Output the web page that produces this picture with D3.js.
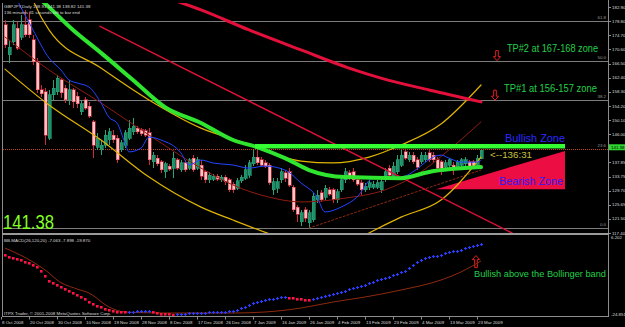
<!DOCTYPE html>
<html lang="en">
<head>
<meta charset="UTF-8">
<title>GBPJPY,Daily</title>
<script src="https://d3js.org/d3.v7.min.js"></script>
<style>
    body { margin: 0; background: #000; }
    svg { display: block; font-family: "Liberation Sans", Arial, sans-serif; }
    .tiny { font-size: 4.4px; fill: #dcdcdc; }
</style>
</head>
<body>
<div id="chart"></div>
<script>
    // ---- data ----
    var dateLabels = ["8 Oct 2008", "20 Oct 2008", "30 Oct 2008", "10 Nov 2008", "19 Nov 2008", "28 Nov 2008",
        "8 Dec 2008", "17 Dec 2008", "26 Dec 2008", "7 Jan 2009", "16 Jan 2009", "26 Jan 2009",
        "4 Feb 2009", "13 Feb 2009", "23 Feb 2009", "4 Mar 2009", "13 Mar 2009", "23 Mar 2009"];
    var dateBars = [0, 7, 14, 21, 28, 35, 42, 49, 56, 63, 70, 77, 84, 91, 98, 105, 112, 119];

    var opens = [177.7, 169.0, 172.8, 176.8, 174.2, 177.7, 179.2, 173.4, 167.0, 158.9,
        158.3, 144.9, 157.4, 158.3, 161.8, 159.4, 156.0, 158.9, 157.1, 152.5,
        156.0, 154.2, 149.6, 142.3, 141.5, 142.9, 144.4, 145.8, 144.9, 141.5,
        142.9, 144.9, 146.7, 147.8, 147.3, 147.0, 146.4, 138.0, 139.1, 138.0,
        135.1, 136.8, 136.2, 138.6, 135.7, 137.7, 136.2, 139.1, 136.2, 137.1,
        135.1, 132.8, 133.0, 133.9, 132.8, 133.6, 132.8, 131.6, 130.4, 132.5,
        133.3, 134.2, 137.4, 139.4, 138.6, 137.7, 137.1, 129.9, 130.4, 132.8,
        134.8, 135.1, 130.7, 124.9, 120.6, 124.1, 120.3, 121.2, 127.0, 129.0,
        127.8, 129.9, 129.9, 127.0, 129.9, 132.8, 134.8, 135.1, 132.8, 131.9,
        129.9, 130.7, 130.7, 130.7, 129.9, 132.8, 136.2, 133.9, 135.1, 137.1,
        140.9, 138.6, 140.0, 138.6, 138.0, 138.6, 140.6, 140.0, 138.6, 138.0,
        136.5, 137.1, 137.1, 136.5, 137.1, 137.4, 138.0, 138.0, 137.1, 138.91];
    var highs = [179.2, 173.4, 179.2, 178.6, 180.6, 182.1, 181.5, 174.8, 168.1, 160.3,
        159.4, 158.9, 161.8, 163.2, 162.3, 160.3, 161.8, 159.4, 158.3, 156.0,
        156.8, 155.4, 150.2, 146.4, 144.4, 147.3, 147.8, 147.3, 145.8, 144.4,
        147.3, 150.2, 150.7, 148.4, 147.8, 147.5, 147.8, 140.9, 140.0, 138.6,
        138.0, 137.4, 140.9, 139.1, 138.6, 138.6, 139.1, 140.0, 139.4, 138.6,
        135.7, 135.1, 134.5, 134.5, 134.2, 134.2, 133.3, 132.2, 133.3, 134.2,
        137.1, 138.6, 141.5, 142.0, 139.4, 138.6, 137.7, 133.3, 133.3, 136.2,
        135.7, 136.2, 131.3, 125.5, 124.1, 124.9, 124.1, 129.0, 129.9, 129.9,
        131.3, 130.7, 130.4, 130.1, 133.9, 136.2, 135.7, 136.2, 133.6, 132.8,
        131.9, 132.8, 132.5, 132.8, 133.3, 136.2, 137.1, 138.0, 140.0, 141.5,
        141.5, 140.9, 140.9, 139.4, 140.9, 140.9, 141.5, 140.9, 139.4, 138.6,
        138.6, 139.1, 138.0, 138.6, 139.1, 139.4, 138.6, 138.6, 140.0, 141.38];
    var lows = [171.0, 166.7, 171.9, 170.5, 173.4, 174.2, 173.9, 166.1, 158.0, 156.8,
        142.9, 144.4, 156.0, 157.4, 156.5, 155.1, 154.5, 153.6, 153.6, 151.6,
        153.1, 150.7, 139.1, 141.5, 140.0, 142.0, 142.9, 143.5, 137.7, 140.9,
        142.0, 144.4, 145.8, 146.1, 145.5, 145.2, 137.1, 136.2, 136.8, 134.8,
        133.3, 135.4, 133.3, 135.7, 135.1, 135.1, 135.7, 135.1, 135.7, 132.8,
        131.9, 131.9, 132.5, 132.5, 132.2, 131.3, 129.3, 129.0, 129.9, 131.9,
        132.8, 133.3, 136.8, 137.1, 136.5, 136.2, 131.3, 128.4, 129.0, 131.9,
        132.2, 130.7, 123.5, 120.6, 119.4, 120.6, 118.8, 120.6, 126.1, 126.4,
        127.0, 128.1, 126.1, 126.1, 129.3, 131.9, 132.8, 132.2, 131.0, 128.4,
        129.3, 129.9, 130.1, 130.1, 129.0, 132.2, 133.6, 133.3, 134.5, 136.5,
        138.6, 138.0, 137.4, 135.7, 137.4, 138.0, 138.0, 137.7, 135.1, 134.2,
        135.7, 136.2, 134.2, 135.9, 136.5, 136.8, 135.7, 135.9, 136.5, 138.82];
    var closes = [171.9, 171.3, 177.7, 171.0, 177.7, 174.8, 174.8, 167.0, 158.9, 157.7,
        145.8, 157.4, 159.4, 162.3, 158.0, 156.0, 158.9, 155.4, 154.8, 154.8,
        153.6, 151.3, 142.9, 144.9, 142.9, 145.8, 146.7, 144.4, 138.6, 143.5,
        146.4, 147.8, 148.4, 146.7, 146.1, 145.8, 138.6, 140.0, 137.4, 135.7,
        137.4, 135.9, 139.1, 136.2, 137.7, 135.7, 138.6, 135.7, 138.6, 133.9,
        132.8, 134.2, 133.9, 133.0, 133.6, 132.2, 129.9, 129.9, 132.5, 133.6,
        135.7, 137.7, 139.4, 137.7, 137.1, 136.8, 131.9, 132.2, 132.2, 135.1,
        133.3, 131.3, 124.1, 122.9, 123.2, 121.7, 123.2, 128.1, 128.4, 127.0,
        130.4, 128.7, 127.0, 129.3, 132.8, 135.1, 133.3, 132.8, 131.6, 129.9,
        131.0, 131.9, 131.6, 131.9, 132.2, 135.1, 134.2, 136.8, 138.6, 140.0,
        139.1, 140.0, 138.0, 136.5, 140.0, 140.0, 138.6, 138.6, 136.2, 136.2,
        137.7, 138.6, 136.2, 138.0, 138.6, 138.6, 136.2, 136.5, 139.1, 141.38];

    var priceTicks = [182.90, 178.80, 174.70, 170.60, 166.50, 162.40, 158.30, 154.20, 150.10, 146.00,
        137.85, 133.75, 129.70, 125.65, 121.50, 117.40];
    var macdTicks = [6.202, -24.851];
    var lastPrice = 141.38;

    // fibonacci drawn from the 2008 high to the Jan 2009 low
    var fibLow = 118.83, fibHigh = 215.88;
    var fibLevels = [0, 23.6, 38.2, 50.0, 61.8];

    // indicator lines, [bar, price] read at turning points
    var maGreen = [[6, 187.8], [9, 184.95], [17, 176.25], [24, 169.6], [32, 161.75], [40, 153.9], [49, 149.3],
        [57, 144.35], [63, 142.3], [70, 139.1], [76, 135.65], [85, 133.6], [99, 133.3], [106, 135.1], [119, 136.5]];
    var maRed = [[42, 184.95], [49, 182.05], [61, 176.25], [74, 170.45], [86, 165.2], [94, 162.3], [106, 158.85], [119, 155.4]];
    var maBlue = [[3, 184.95], [7, 176.25], [11, 168.1], [14, 164.65], [16, 161.75], [18, 160.9], [21, 159.7], [24, 155.1],
        [26, 150.9], [28, 149.3], [30, 143.5], [31, 140.9], [34, 142.0], [36, 145.2], [39, 144.35], [44, 140.6],
        [46, 137.1], [49, 138.55], [52, 137.7], [57, 137.1], [61, 136.2], [65, 136.8], [70, 135.65], [74, 131.9],
        [78, 127.8], [80, 123.5], [84, 124.9], [88, 127.8], [92, 133.3], [99, 133.6], [109, 140.0], [111, 139.1],
        [114, 137.95], [118, 137.95], [119, 138.55]];
    var bandUpper = [[6, 188.0], [7, 184.95], [11, 176.25], [24, 165.2], [36, 155.95], [49, 147.8], [60, 143.5], [68, 140.0],
        [74, 138.25], [82, 137.7], [91, 139.4], [99, 142.9], [109, 149.0], [119, 160.3]];
    var bandMiddle = [[0, 174.2], [11, 164.65], [24, 155.1], [36, 145.8], [49, 136.2], [57, 131.3], [66, 127.8],
        [74, 126.4], [85, 127.5], [95, 129.9], [104, 135.1], [111, 141.5], [119, 149.6]];
    var bandLower = [[0, 164.9], [11, 154.5], [24, 144.35], [36, 133.6], [49, 124.9], [57, 121.15], [66, 117.2],
        [74, 114.2], [80, 113.0], [86, 114.2], [91, 117.4], [99, 122.0], [109, 126.95], [119, 139.4]];

    var trendRed = [[23.75, 177.3], [126.75, 117.4]];
    var trendLow = [[76, 118.83], [119, 135.65]];

    var bullZone = [62.5, 140, 143.2, 141.9];          // from bar, to bar, top, bottom
    var bearZone = [[107.75, 130.1], [140, 141.2], [140, 130.1]];

    var macd = [-1.17, -1.95, -2.34, -2.73, -3.11, -3.89, -4.28, -5.05, -5.83, -7.38,
        -9.32, -11.26, -12.04, -12.82, -13.59, -14.37, -15.15, -15.92, -16.70, -17.48,
        -18.25, -19.42, -20.19, -20.97, -21.36, -22.13, -22.52, -22.91, -23.30, -23.35,
        -23.45, -23.30, -23.20, -23.10, -23.00, -22.95, -22.90, -23.40, -23.70, -23.90,
        -24.05, -24.15, -24.27, -24.10, -24.00, -23.95, -23.85, -23.80, -23.69, -23.60,
        -23.55, -23.49, -23.45, -23.40, -23.30, -23.20, -23.10, -22.91, -22.52, -21.75,
        -21.36, -20.58, -19.80, -19.42, -19.03, -18.64, -18.25, -18.06, -17.86, -17.48,
        -17.40, -17.67, -17.86, -18.06, -18.25, -18.45, -18.64, -18.25, -17.86, -17.48,
        -17.09, -16.70, -16.31, -15.92, -15.53, -15.15, -14.56, -13.98, -13.59, -13.20,
        -12.82, -12.23, -11.65, -11.07, -10.49, -10.10, -9.71, -9.13, -8.55, -7.96,
        -7.38, -6.22, -5.05, -3.89, -3.11, -2.53, -2.14, -1.75, -1.37, -0.98,
        -0.59, -0.20, 0.19, 0.57, 0.96, 1.35, 1.74, 2.13, 2.71, 3.29];
    var macdBand = [[0, 1.54], [7, -3.89], [11, -8.16], [13, -10.88], [18, -14.37], [21, -15.92], [26, -21.36],
        [30, -23.30], [40, -23.69], [57, -23.69], [65, -23.30], [74, -21.75], [82, -19.42], [90, -17.48],
        [99, -14.76], [109, -10.88], [114, -7.77], [119, -3.50]];

    // ---- scales ----
    var x = d3.scaleLinear().domain([0, 119]).range([5, 481]);
    var y = d3.scaleLinear().domain([117.40, 182.90]).range([233, 7]);
    var ym = d3.scaleLinear().domain([-24.851, 6.202]).range([316, 236]);
    var px = function (i) { return Math.round(x(i)); };

    var svg = d3.select("#chart").append("svg").attr("width", 625).attr("height", 327);
    svg.append("rect").attr("width", 625).attr("height", 327).attr("fill", "#000");

    var defs = svg.append("defs");
    defs.append("clipPath").attr("id", "clipMain").append("rect")
        .attr("x", 3).attr("y", 3).attr("width", 605).attr("height", 230);
    defs.append("clipPath").attr("id", "clipSub").append("rect")
        .attr("x", 3).attr("y", 236).attr("width", 605).attr("height", 80);

    var gMain = svg.append("g").attr("clip-path", "url(#clipMain)");
    var gSub = svg.append("g").attr("clip-path", "url(#clipSub)");

    // fibonacci levels
    var fibPrice = function (l) { return fibLow + (fibHigh - fibLow) * l / 100; };
    gMain.selectAll("line.fib").data(fibLevels).enter().append("line")
        .attr("x1", 3).attr("x2", 608)
        .attr("y1", function (d) { return Math.round(y(fibPrice(d))) + 0.5; })
        .attr("y2", function (d) { return Math.round(y(fibPrice(d))) + 0.5; })
        .attr("stroke", function (d) { return d === 23.6 ? "#c2401c" : "#7c7c7c"; })
        .attr("stroke-dasharray", function (d) { return d === 23.6 ? "1,1" : null; })
        .attr("shape-rendering", "crispEdges");
    gMain.selectAll("text.fib").data(fibLevels).enter().append("text")
        .attr("class", "tiny")
        .attr("x", 606).attr("y", function (d) { return y(fibPrice(d)) - 2; })
        .attr("text-anchor", "end").style("fill", "#9a9a9a")
        .text(function (d) { return d.toFixed(1); });

    // red bearish triangle
    gMain.append("path")
        .attr("d", "M" + bearZone.map(function (d) { return [x(d[0]), y(d[1])]; }).join("L") + "Z")
        .attr("fill", "#ec0d42");

    // candles
    var bars = d3.range(closes.length);
    var candle = gMain.append("g").attr("shape-rendering", "crispEdges");
    candle.selectAll("line").data(bars).enter().append("line")
        .attr("x1", function (i) { return px(i) + 0.5; })
        .attr("x2", function (i) { return px(i) + 0.5; })
        .attr("y1", function (i) { return y(highs[i]); })
        .attr("y2", function (i) { return y(lows[i]); })
        .attr("stroke", function (i) { return closes[i] >= opens[i] ? "#2aa37a" : "#d0283c"; });
    candle.selectAll("rect").data(bars).enter().append("rect")
        .attr("x", function (i) { return px(i) - 1; })
        .attr("width", 3)
        .attr("y", function (i) { return y(Math.max(opens[i], closes[i])); })
        .attr("height", function (i) { return Math.max(1, Math.abs(y(opens[i]) - y(closes[i]))); })
        .attr("fill", function (i) { return closes[i] >= opens[i] ? "#1f8f68" : "#ffc6c6"; })
        .attr("stroke", function (i) { return closes[i] >= opens[i] ? "#2aa37a" : "#e8384c"; })
        .attr("stroke-width", 0.6);

    // indicator curves
    var line = d3.line()
        .x(function (d) { return x(d[0]); })
        .y(function (d) { return y(d[1]); })
        .curve(d3.curveMonotoneX);

    var curves = [
        {data: bandMiddle, color: "#8e1c10", width: 1},
        {data: trendLow, color: "#8e2a10", width: 1, dash: "2,2"},
        {data: bandUpper, color: "#e0b400", width: 1.2},
        {data: bandLower, color: "#e0b400", width: 1.2},
        {data: maRed, color: "#e2103a", width: 3},
        {data: trendRed, color: "#dc1036", width: 1.5},
        {data: maBlue, color: "#2244ff", width: 1},
        {data: maGreen, color: "#2fe52f", width: 4}
    ];
    gMain.selectAll("path.curve").data(curves).enter().append("path")
        .attr("d", function (d) { return line(d.data); })
        .attr("fill", "none")
        .attr("stroke", function (d) { return d.color; })
        .attr("stroke-width", function (d) { return d.width; })
        .attr("stroke-dasharray", function (d) { return d.dash || null; })
        .attr("stroke-linecap", "round");

    // bullish zone bar
    gMain.append("rect")
        .attr("x", x(bullZone[0])).attr("width", x(bullZone[1]) - x(bullZone[0]))
        .attr("y", y(bullZone[2])).attr("height", y(bullZone[3]) - y(bullZone[2]))
        .attr("fill", "#33ff33");

    // arrows
    function arrowPath(cx, tipY, len, down) {
        var s = down ? 1 : -1, base = tipY - s * len, neck = tipY - s * 4;
        return "M" + [cx - 1.3, base] + "L" + [cx + 1.3, base] + "L" + [cx + 1.3, neck] + "L" + [cx + 3.6, neck] +
            "L" + [cx, tipY] + "L" + [cx - 3.6, neck] + "L" + [cx - 1.3, neck] + "Z";
    }
    gMain.append("path").attr("d", arrowPath(x(123), y(fibPrice(50)), 10, true))
        .attr("fill", "none").attr("stroke", "#e02020");
    gMain.append("path").attr("d", arrowPath(x(122.5), y(fibPrice(38.2)), 10, true))
        .attr("fill", "none").attr("stroke", "#e02020");
    gSub.append("path").attr("d", arrowPath(x(117.75), ym(-1.4), 12, false))
        .attr("fill", "none").attr("stroke", "#e02020");

    // annotation texts
    var notes = [
        {t: "TP#2 at 167-168 zone", b: 125.5, p: 169.9, w: 91, size: 10, c: "#22cf4a"},
        {t: "TP#1 at 156-157 zone", b: 124.75, p: 158.3, w: 93, size: 10, c: "#22cf4a"},
        {t: "Bullish Zone", b: 125, p: 143.8, w: 60, size: 11, c: "#2a2aff"},
        {t: "<--136:31", b: 121.25, p: 139.1, w: 42, size: 9.5, c: "#c8c23a"},
        {t: "Bearish Zone", b: 123.5, p: 131.3, w: 64, size: 11, c: "#2a1cff"}
    ];
    gMain.selectAll("text.note").data(notes).enter().append("text")
        .attr("x", function (d) { return x(d.b); })
        .attr("y", function (d) { return y(d.p); })
        .attr("textLength", function (d) { return d.w; })
        .attr("lengthAdjust", "spacingAndGlyphs")
        .style("font-size", function (d) { return d.size + "px"; })
        .style("fill", function (d) { return d.c; })
        .text(function (d) { return d.t; });

    // big price
    svg.append("text").attr("x", 3).attr("y", 229)
        .attr("textLength", 51).attr("lengthAdjust", "spacingAndGlyphs")
        .style("font-size", "20px").style("fill", "#84ff26")
        .text(lastPrice.toFixed(2));

    // header
    svg.append("text").attr("class", "tiny").attr("x", 4).attr("y", 8)
        .text("GBPJPY,Daily  138.91 141.38 138.82 " + lastPrice.toFixed(2));
    svg.append("text").attr("class", "tiny").attr("x", 4).attr("y", 14)
        .text("136 minutes 31 seconds left to bar end");

    // ---- MACD panel ----
    var mline = d3.line()
        .x(function (d) { return x(d[0]); })
        .y(function (d) { return ym(d[1]); })
        .curve(d3.curveMonotoneX);
    gSub.append("path").attr("d", mline(macdBand))
        .attr("fill", "none").attr("stroke", "#8e2a0c").attr("stroke-width", 1);

    var rising = function (i) {
        if (i === 0) return macd[1] >= macd[0];
        return macd[i] >= macd[i - 1];
    };
    gSub.selectAll("rect.dot").data(bars.filter(function (i) { return !rising(i); })).enter().append("rect")
        .attr("x", function (i) { return px(i) - 1; })
        .attr("y", function (i) { return Math.round(ym(macd[i])) - 1; })
        .attr("width", 2.6).attr("height", 2.6)
        .attr("fill", "#ff1244");
    gSub.selectAll("path.dot").data(bars.filter(rising)).enter().append("path")
        .attr("d", function (i) {
            var cx = px(i) + 0.5, cy = Math.round(ym(macd[i])) + 0.5;
            return "M" + (cx - 1.5) + "," + cy + "H" + (cx + 1.5) + "M" + cx + "," + (cy - 1.5) + "V" + (cy + 1.5);
        })
        .attr("stroke", "#2a3cff").attr("stroke-width", 1.2);

    gSub.append("text").attr("x", x(117.25)).attr("y", ym(-9.71))
        .attr("textLength", 132).attr("lengthAdjust", "spacingAndGlyphs")
        .style("font-size", "9px").style("fill", "#22cf4a")
        .text("Bullish above the Bollinger band");

    svg.append("text").attr("class", "tiny").attr("x", 4).attr("y", 242)
        .text("BB-MACD(26,120,20) -7.063 -7.898 -19.870");
    svg.append("text").attr("class", "tiny").attr("x", 4).attr("y", 315)
        .text("ITPX Trader, \u00a9 2001-2008 MetaQuotes Software Corp.");

    // ---- frames ----
    var frame = svg.append("g").attr("shape-rendering", "crispEdges").attr("stroke", "#8c8c8c");
    frame.append("line").attr("x1", 2.5).attr("x2", 2.5).attr("y1", 3).attr("y2", 317);
    frame.append("line").attr("x1", 608.5).attr("x2", 608.5).attr("y1", 0).attr("y2", 317);
    frame.append("line").attr("x1", 2).attr("x2", 609).attr("y1", 316.5).attr("y2", 316.5);
    svg.append("rect").attr("x", 2).attr("y", 233).attr("width", 607).attr("height", 2).attr("fill", "#9a9a9a");

    // price axis
    svg.selectAll("text.ptick").data(priceTicks).enter().append("text")
        .attr("class", "tiny").attr("x", 612).attr("y", function (d) { return y(d) + 1.5; })
        .text(function (d) { return d.toFixed(2); });
    svg.selectAll("line.ptick").data(priceTicks).enter().append("line")
        .attr("x1", 609).attr("x2", 611)
        .attr("y1", function (d) { return Math.round(y(d)) + 0.5; })
        .attr("y2", function (d) { return Math.round(y(d)) + 0.5; })
        .attr("stroke", "#8c8c8c");
    svg.append("rect").attr("x", 609).attr("y", y(lastPrice) - 6).attr("width", 16).attr("height", 6)
        .attr("fill", "#2fd62f");
    svg.append("text").attr("class", "tiny").attr("x", 611).attr("y", y(lastPrice) - 1.3)
        .style("fill", "#000").text(lastPrice.toFixed(2));

    svg.selectAll("text.mtick").data(macdTicks).enter().append("text")
        .attr("class", "tiny").attr("x", 611).attr("y", function (d, i) { return i === 0 ? ym(d) + 3 : ym(d) - 0.5; })
        .text(function (d) { return d.toFixed(3); });

    // date axis
    svg.selectAll("text.date").data(dateBars).enter().append("text")
        .attr("class", "tiny").attr("x", function (d) { return px(d) - 3; }).attr("y", 324)
        .text(function (d, i) { return dateLabels[i]; });
    svg.selectAll("line.date").data(dateBars).enter().append("line")
        .attr("x1", function (d) { return px(d) - 3.5; }).attr("x2", function (d) { return px(d) - 3.5; })
        .attr("y1", 317).attr("y2", 319.5)
        .attr("stroke", "#8c8c8c");
</script>
</body>
</html>
